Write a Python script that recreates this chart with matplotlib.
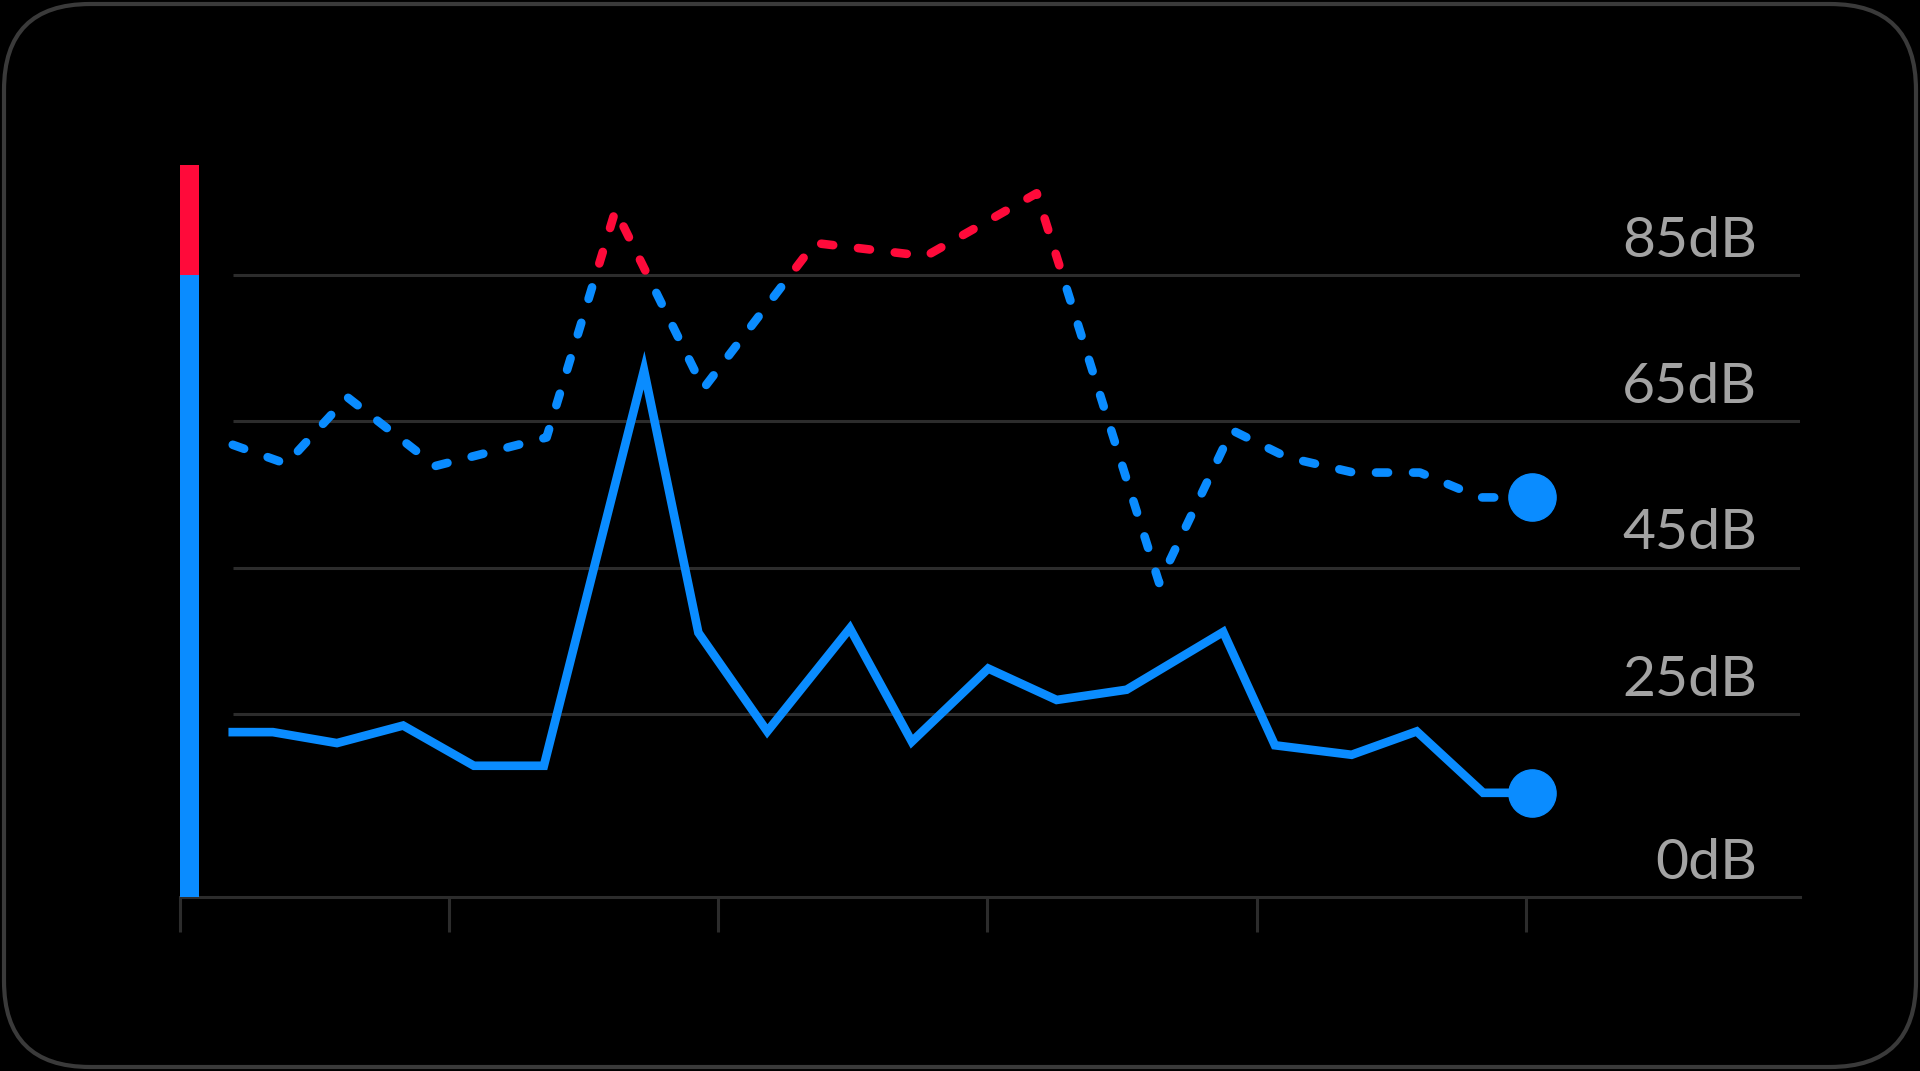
import matplotlib
matplotlib.use('agg')
import matplotlib.pyplot as plt
from matplotlib.patches import FancyBboxPatch, Rectangle

# time positions (minutes) and levels (dB)
avg_x = [1.96, 3.45, 5.83, 8.29, 10.92, 13.52, 17.24, 19.26, 21.82, 24.89,
         27.19, 30.03, 32.57, 35.17, 38.76, 40.68, 43.53, 45.95, 48.42, 50.22]
avg_db = [22.5, 22.5, 21.0, 23.4, 17.9, 17.9, 72.0, 36.1, 22.6, 36.7,
          21.2, 31.2, 26.9, 28.3, 36.2, 20.7, 19.4, 22.6, 14.2, 14.2]

peak_x = [1.96, 3.95, 6.22, 9.49, 13.62, 16.18, 19.45, 23.59, 27.71, 31.83,
          36.38, 39.08, 41.12, 43.60, 46.07, 48.30, 50.22]
peak_db = [61.8, 59.2, 68.3, 58.9, 62.8, 93.9, 69.5, 89.4, 87.6, 96.2,
           42.9, 63.8, 60.1, 58.0, 58.0, 54.6, 54.6]

grid_levels = [0, 25, 45, 65, 85]
level_labels = ['0dB', '25dB', '45dB', '65dB', '85dB']
time_ticks = [0, 10, 20, 30, 40, 50]
limit_db = 85
scale_top = 100

BLUE = '#0A8CFF'
RED = '#FF0A3A'
GRID = '#2c2c2c'

fig = plt.figure(figsize=(19.2, 10.71), dpi=100, facecolor='black')

# rounded frame behind everything
bg = fig.add_axes([0, 0, 1, 1])
bg.set_xlim(0, 1920)
bg.set_ylim(0, 1071)
bg.axis('off')
bg.add_patch(FancyBboxPatch((4, 4), 1912, 1063,
                            boxstyle='round,pad=0,rounding_size=86',
                            facecolor='black', edgecolor='#3a3a3a', linewidth=3))

ax = fig.add_axes([0.09375, 0.1628, 0.84375, 0.6827])
ax.set_facecolor('none')
ax.set_xlim(0, 60.19)
ax.set_ylim(0, scale_top)

# horizontal level lines
for lvl in grid_levels[1:]:
    ax.hlines(lvl, avg_x[0], 60.19, color=GRID, linewidth=2.2, zorder=1)

for lvl, lab in zip(grid_levels, level_labels):
    ax.text(58.6, lvl + 4.6, lab, ha='right', va='center', color='#a3a3a3',
            fontsize=41, family=['Lato', 'DejaVu Sans'], clip_on=False)

# level bar at left
ax.bar(0, limit_db, width=0.69, align='edge', color=BLUE, zorder=3)
ax.bar(0, scale_top - limit_db, bottom=limit_db, width=0.69, align='edge',
       color=RED, zorder=3)

# average level line
ax.plot(avg_x, avg_db, color=BLUE, linewidth=6.2, solid_joinstyle='miter', zorder=4)

# peak level dashed line, red above the limit
for col, y0, h in [(BLUE, -10, limit_db + 10), (RED, limit_db, 50)]:
    ln, = ax.plot(peak_x, peak_db, color=col, linewidth=6.2, linestyle=(0, (1.4, 2.9)),
                  dash_capstyle='round', zorder=4)
    ln.set_clip_path(Rectangle((-10, y0), 100, h, transform=ax.transData))

ax.plot(avg_x[-1], avg_db[-1], 'o', color=BLUE, markersize=34, clip_on=False, zorder=5)
ax.plot(peak_x[-1], peak_db[-1], 'o', color=BLUE, markersize=34, clip_on=False, zorder=5)

for side in ['left', 'right', 'top']:
    ax.spines[side].set_visible(False)
ax.spines['bottom'].set_color(GRID)
ax.spines['bottom'].set_linewidth(2.2)
ax.set_xticks(time_ticks)
ax.set_xticklabels([])
ax.set_yticks([])
ax.tick_params(axis='x', direction='out', length=25, width=2.2, color=GRID)

fig.savefig('out.png', dpi=100, facecolor='black')
